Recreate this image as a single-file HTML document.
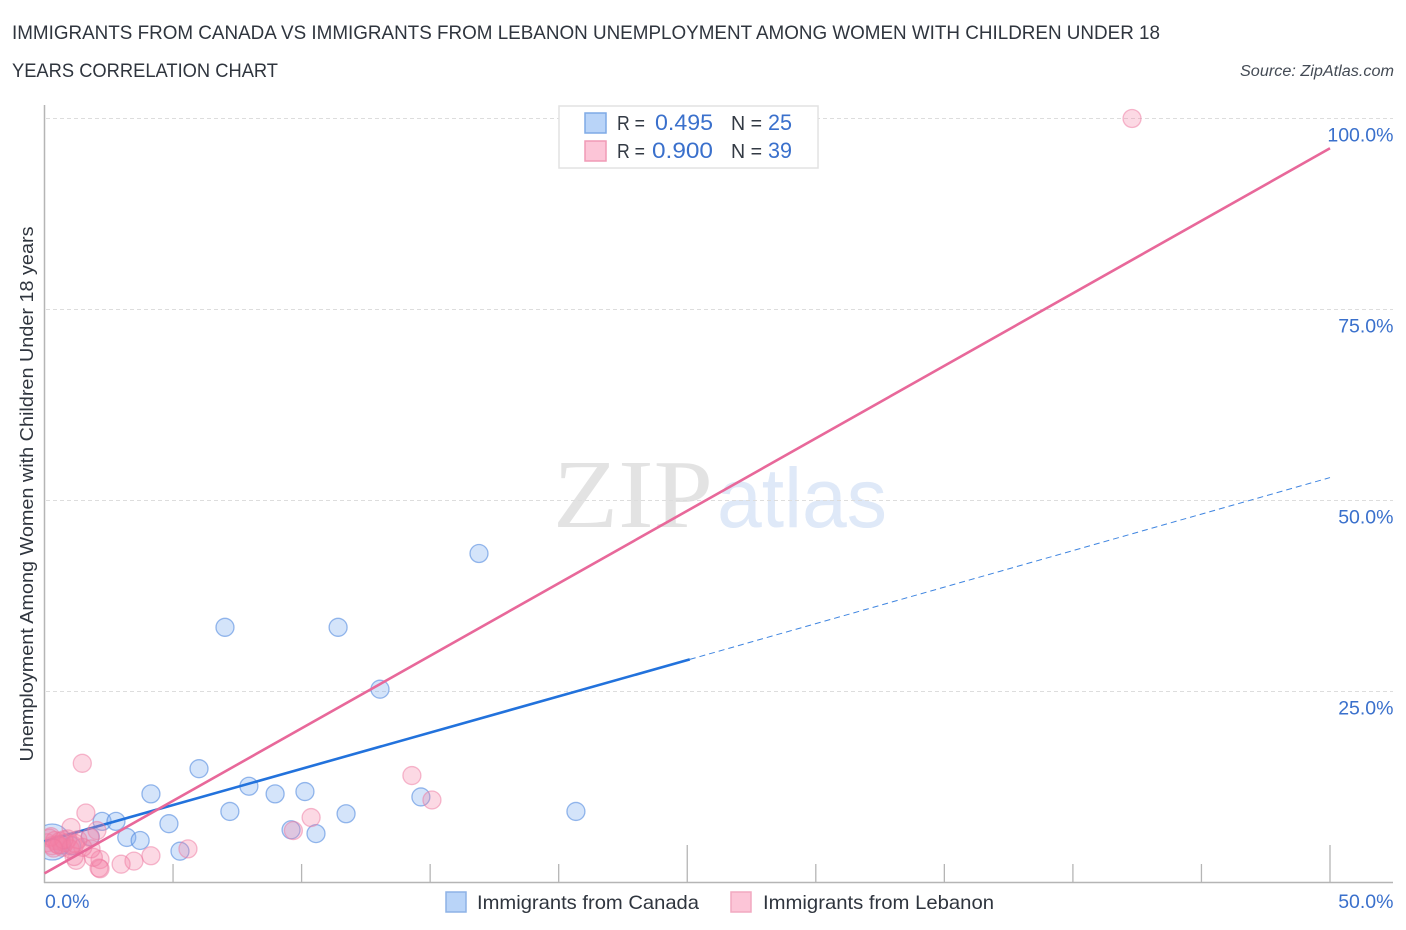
<!DOCTYPE html>
<html lang="en">
<head>
<meta charset="utf-8">
<title>Immigrants from Canada vs Immigrants from Lebanon Correlation Chart</title>
<style>
html,body{margin:0;padding:0;background:#fff;}
svg{display:block;font-family:"Liberation Sans",sans-serif;}
</style>
</head>
<body>
<svg id="chart" xmlns="http://www.w3.org/2000/svg" width="1406" height="930" viewBox="0 0 1406 930">
  <defs>
    <clipPath id="plot-clip"><rect x="45" y="90" width="1361" height="793"/></clipPath>
  </defs>
  <g id="watermark">
    <text x="553" y="527" font-family="'Liberation Serif',serif" font-size="98" fill="#e3e3e3" textLength="160" lengthAdjust="spacingAndGlyphs">ZIP</text>
    <text x="717" y="527" font-size="84" fill="#dfe9f8" textLength="170" lengthAdjust="spacingAndGlyphs">atlas</text>
  </g>
  <g id="grid"></g>
  <g id="axes"></g>
  <g id="points-canada" clip-path="url(#plot-clip)"></g>
  <g id="trend-canada"></g>
  <g id="points-lebanon" clip-path="url(#plot-clip)"></g>
  <g id="trend-lebanon"></g>

  <text x="12" y="39" font-size="19" fill="#2f353e" textLength="1148" lengthAdjust="spacingAndGlyphs">IMMIGRANTS FROM CANADA VS IMMIGRANTS FROM LEBANON UNEMPLOYMENT AMONG WOMEN WITH CHILDREN UNDER 18</text>
  <text x="12" y="77" font-size="19" fill="#2f353e" textLength="266" lengthAdjust="spacingAndGlyphs">YEARS CORRELATION CHART</text>
  <text x="1394" y="76" font-size="15.5" font-style="italic" fill="#444b55" text-anchor="end" textLength="154" lengthAdjust="spacingAndGlyphs">Source: ZipAtlas.com</text>
  <text transform="translate(33,494) rotate(-90)" font-size="18.5" fill="#2f353e" text-anchor="middle" textLength="535" lengthAdjust="spacingAndGlyphs">Unemployment Among Women with Children Under 18 years</text>

  <g>
    <rect x="559" y="106" width="259" height="62" fill="#fff" stroke="#e2e2e2" stroke-width="1.5"/>
    <rect x="585" y="113" width="21" height="20" fill="#b9d4f8" stroke="#7eaae6" stroke-width="1.5"/>
    <rect x="585" y="141" width="21" height="20" fill="#fcc5d7" stroke="#f09ab6" stroke-width="1.5"/>
    <g font-size="20" fill="#333a44">
      <text x="617" y="130" textLength="28" lengthAdjust="spacingAndGlyphs">R =</text>
      <text x="731" y="130" textLength="31" lengthAdjust="spacingAndGlyphs">N =</text>
      <text x="617" y="158" textLength="28" lengthAdjust="spacingAndGlyphs">R =</text>
      <text x="731" y="158" textLength="31" lengthAdjust="spacingAndGlyphs">N =</text>
    </g>
    <g font-size="22" fill="#3a70cc">
      <text x="655" y="130" textLength="58" lengthAdjust="spacingAndGlyphs">0.495</text>
      <text x="768" y="130" textLength="24" lengthAdjust="spacingAndGlyphs">25</text>
      <text x="652" y="158" textLength="61" lengthAdjust="spacingAndGlyphs">0.900</text>
      <text x="768" y="158" textLength="24" lengthAdjust="spacingAndGlyphs">39</text>
    </g>
  </g>

  <g>
    <rect x="446" y="892" width="20" height="20" fill="#b9d4f8" stroke="#8db2e6" stroke-width="1.5"/>
    <text x="477" y="909" font-size="19.5" fill="#2f353e" textLength="222" lengthAdjust="spacingAndGlyphs">Immigrants from Canada</text>
    <rect x="731" y="892" width="20" height="20" fill="#fcc5d7" stroke="#f2a9c0" stroke-width="1.5"/>
    <text x="763" y="909" font-size="19.5" fill="#2f353e" textLength="231" lengthAdjust="spacingAndGlyphs">Immigrants from Lebanon</text>
  </g>
</svg>
<script>
// Chart data (percent values)
const yTickValues = [25, 50, 75, 100];
const yTickLabels = ['25.0%', '50.0%', '75.0%', '100.0%'];
const xTickValues = [0, 5, 10, 15, 20, 25, 30, 35, 40, 45, 50];
const xMajorTicks = [25, 50];
const xEndLabels = ['0.0%', '50.0%'];

const canadaX = [16.9, 7.02, 11.42, 13.05, 6.01, 4.14, 7.95, 8.97, 10.13, 14.64, 20.67, 11.73, 7.21, 4.84, 3.2, 3.72, 2.24, 2.78, 5.27, 9.59, 10.56, 1.78, 0.67, 1.05, 0.3];
const canadaY = [43.06, 33.4, 33.4, 25.3, 14.9, 11.6, 12.6, 11.6, 11.9, 11.2, 9.3, 9.0, 9.3, 7.7, 5.9, 5.5, 8.0, 8.0, 4.1, 6.9, 6.4, 6.0, 4.9, 4.8, 5.3];
const canadaR = [9, 9, 9, 9, 9, 9, 9, 9, 9, 9, 9, 9, 9, 9, 9, 9, 9, 9, 9, 9, 9, 9, 9, 9, 18];

const lebanonX = [42.3, 1.47, 1.61, 14.29, 15.07, 10.37, 9.68, 5.58, 4.14, 3.48, 2.98, 2.16, 2.16, 2.12, 1.9, 1.23, 1.15, 1.03, 2.04, 1.77, 1.81, 1.49, 1.3, 0.1, 0.2, 0.3, 0.4, 0.5, 0.6, 0.7, 0.8, 0.9, 1.0, 1.1, 0.25, 0.55, 0.75, 1.2, 0.35];
const lebanonY = [100, 15.6, 9.1, 14, 10.8, 8.5, 6.8, 4.4, 3.5, 2.8, 2.4, 3, 1.8, 1.9, 3.3, 2.9, 3.4, 7.2, 6.8, 5.9, 4.4, 4.6, 5.6, 5.2, 5.8, 4.8, 5.5, 5.0, 5.4, 4.6, 5.2, 5.7, 4.4, 4.9, 6.0, 4.9, 5.6, 5.1, 4.5];

const canadaTrendX = [0, 25.1];
const canadaTrendY = [5.4, 29.2];
const canadaDashX = [25.1, 50];
const canadaDashY = [29.2, 53.0];
const lebanonTrendX = [0, 50];
const lebanonTrendY = [1.2, 96.1];

// Axis functions
const xScale = v => 44.5 + v * (1330 - 44.5) / 50;
const yScale = v => 882.5 - v * 7.64;
const NS = 'http://www.w3.org/2000/svg';
function make(tag, attrs, parent) {
  const el = document.createElementNS(NS, tag);
  for (const k in attrs) el.setAttribute(k, attrs[k]);
  parent.appendChild(el);
  return el;
}

const grid = document.getElementById('grid');
const axes = document.getElementById('axes');
yTickValues.forEach((v, i) => {
  const y = yScale(v);
  const line = make('line', {x1: 46, x2: 1393, y1: y, y2: y, stroke: '#dddddd', 'stroke-width': 1, 'stroke-dasharray': '4 3'}, grid);
  
  
  const t = make('text', {x: 1393.5, y: y + 23, 'font-size': 19.5, fill: '#3a70cc', 'text-anchor': 'end'}, axes);
  
  
  t.textContent = yTickLabels[i];
});

const yAxis = make('line', {x1: 44.5, x2: 44.5, y1: 105, y2: 883, stroke: '#b5b5b5', 'stroke-width': 1.5}, axes);


const xAxis = make('line', {x1: 44, x2: 1393, y1: 882.5, y2: 882.5, stroke: '#b5b5b5', 'stroke-width': 1.5}, axes);



xTickValues.forEach(v => {
  if (v === 0) return;
  const x = xScale(v);
  const top = xMajorTicks.includes(v) ? 845 : 864;
  const tick = make('line', {x1: x, x2: x, y1: top, y2: 882, stroke: '#b5b5b5', 'stroke-width': 1.3}, axes);
  
  
});

const xLabel0 = make('text', {x: 45, y: 908, 'font-size': 19.5, fill: '#3a70cc'}, axes);


xLabel0.textContent = xEndLabels[0];
const xLabel1 = make('text', {x: 1393.5, y: 908, 'font-size': 19.5, fill: '#3a70cc', 'text-anchor': 'end'}, axes);


xLabel1.textContent = xEndLabels[1];

// Points
const gCanada = document.getElementById('points-canada');
canadaX.forEach((v, i) => {
  const c = make('circle', {cx: xScale(v), cy: yScale(canadaY[i]), r: canadaR[i], fill: 'rgba(130,175,240,0.34)', stroke: 'rgba(70,130,220,0.55)', 'stroke-width': 1.3}, gCanada);
  
  
});
const gLebanon = document.getElementById('points-lebanon');
lebanonX.forEach((v, i) => {
  const c = make('circle', {cx: xScale(v), cy: yScale(lebanonY[i]), r: 9, fill: 'rgba(245,130,165,0.3)', stroke: 'rgba(238,120,160,0.5)', 'stroke-width': 1.3}, gLebanon);
  
  
});

// Trend lines
const gTrendCanada = document.getElementById('trend-canada');
const gTrendLebanon = document.getElementById('trend-lebanon');
const trendCanada = make('line', {x1: xScale(canadaTrendX[0]), y1: yScale(canadaTrendY[0]), x2: xScale(canadaTrendX[1]), y2: yScale(canadaTrendY[1]), stroke: '#2272dc', 'stroke-width': 2.6}, gTrendCanada);


const trendDash = make('line', {x1: xScale(canadaDashX[0]), y1: yScale(canadaDashY[0]), x2: xScale(canadaDashX[1]), y2: yScale(canadaDashY[1]), stroke: '#3f85e0', 'stroke-width': 1, 'stroke-dasharray': '6 4'}, gTrendCanada);


const trendLebanon = make('line', {x1: xScale(lebanonTrendX[0]), y1: yScale(lebanonTrendY[0]), x2: xScale(lebanonTrendX[1]), y2: yScale(lebanonTrendY[1]), stroke: '#e8689a', 'stroke-width': 2.6}, gTrendLebanon);


</script>
</body>
</html>
